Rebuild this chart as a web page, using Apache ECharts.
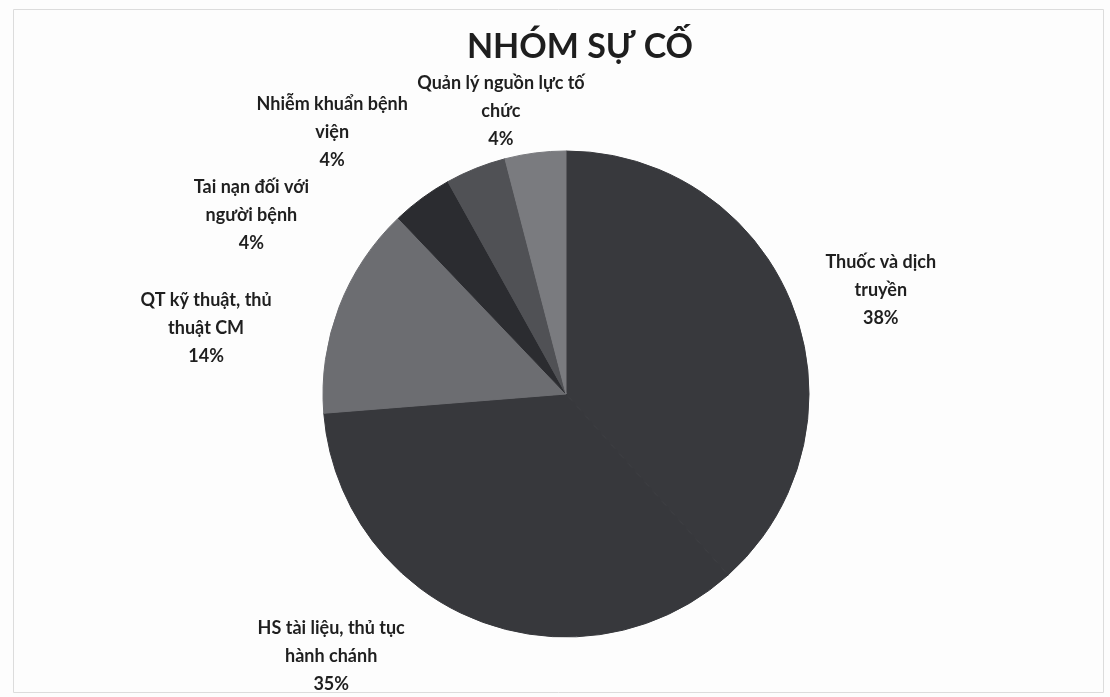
<!DOCTYPE html>
<html>
<head>
<meta charset="utf-8">
<script src="https://cdn.jsdelivr.net/npm/echarts@6/dist/echarts.min.js"></script>
<style>
html,body{margin:0;padding:0;background:#fdfdfd;}
#chart{width:1110px;height:697px;}
</style>
</head>
<body>
<div id="chart"></div>
<script>
// Data (clockwise from 12 o'clock)
const categories = [
  'Thuốc và dịch\ntruyền',
  'HS tài liệu, thủ tục\nhành chánh',
  'QT kỹ thuật, thủ\nthuật CM',
  'Tai nạn đối với\nngười bệnh',
  'Nhiễm khuẩn bệnh\nviện',
  'Quản lý nguồn lực tố\nchức'
];
const percents = [38, 35, 14, 4, 4, 4];
const sliceColors = ['#38393d', '#37383c', '#6c6d71', '#2b2c30', '#505155', '#7a7b7f'];
// label guide lengths (invisible guide lines used only to place labels)
const guideLen = [49, 39, -59, -21, 39, 42];
const guideLen2 = [42, 130, 188, 183, 129, 29];

const chart = echarts.init(document.getElementById('chart'), null, {renderer: 'canvas'});

const data = categories.map((name, i) => ({
  name: name,
  value: percents[i],
  itemStyle: {color: sliceColors[i], borderColor: sliceColors[i], borderWidth: 1},
  labelLine: {length: guideLen[i], length2: guideLen2[i]}
}));

chart.setOption({
  backgroundColor: '#fdfdfd',
  animation: false,
  title: {
    text: 'NHÓM SỰ CỐ',
    left: 575,
    textAlign: 'center',
    top: 25,
    textStyle: {fontFamily: 'Lato', fontWeight: 'bold', fontSize: 34, color: '#1e1e1e'}
  },
  graphic: [{
    type: 'rect',
    shape: {x: 13.5, y: 9.5, width: 1090, height: 683},
    style: {fill: 'none', stroke: '#dcdcdc', lineWidth: 1},
    silent: true, z: -1
  }],
  series: [{
    type: 'pie',
    center: [566, 394],
    radius: [0, 243],
    startAngle: 90,
    clockwise: true,
    avoidLabelOverlap: false,
    data: data,
    label: {
      show: true,
      position: 'outside',
      distanceToLabelLine: 0,
      overflow: 'none',
      fontFamily: 'Lato',
      fontWeight: 'bold',
      fontSize: 18,
      lineHeight: 28,
      color: '#1f1f1f',
      formatter: p => p.name + '\n' + p.value + '%'
    },
    labelLine: {
      show: true,
      minTurnAngle: 0,
      maxSurfaceAngle: 180,
      lineStyle: {opacity: 0, width: 0}
    },
    labelLayout: function (params) {
      const r = params.labelRect;
      let ax = r.x + r.width / 2;
      if (params.align === 'right') ax = r.x + r.width;
      else if (params.align === 'left') ax = r.x;
      return {x: ax, y: r.y + r.height / 2, align: 'center', verticalAlign: 'middle'};
    },
    emphasis: {disabled: true}
  }]
});
</script>
</body>
</html>
